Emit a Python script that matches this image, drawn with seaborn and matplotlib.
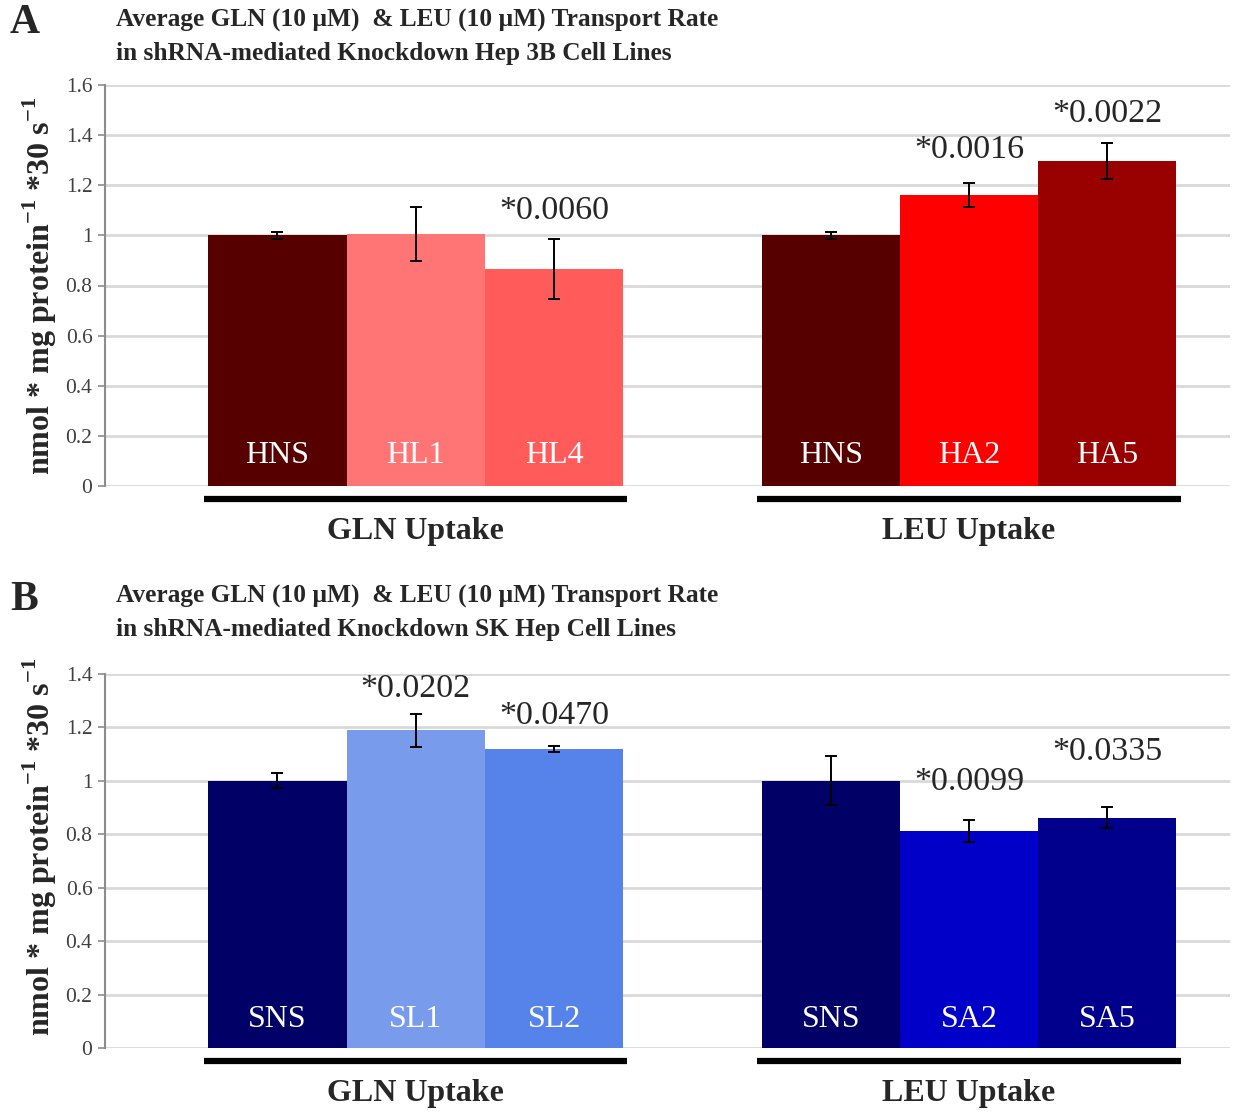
import numpy as np
import pandas as pd
import matplotlib.pyplot as plt
import matplotlib.transforms as mtransforms
import seaborn as sns

# Values (normalised transport rate, +/- error)
pos = [0, 1, 2, 4, 5, 6]

labels_a = ['HNS', 'HL1', 'HL4', 'HNS', 'HA2', 'HA5']
rate_a = [1.00, 1.005, 0.865, 1.00, 1.16, 1.297]
err_a = [0.013, 0.107, 0.12, 0.013, 0.047, 0.072]
colors_a = ['#560000', '#FF7575', '#FF5B5B', '#560000', '#FF0000', '#990000']
pvals_a = ['', '', '0.0060', '', '0.0016', '0.0022']
ptext_y_a = [0, 0, 1.065, 0, 1.309, 1.453]

labels_b = ['SNS', 'SL1', 'SL2', 'SNS', 'SA2', 'SA5']
rate_b = [1.00, 1.19, 1.12, 1.00, 0.813, 0.862]
err_b = [0.028, 0.062, 0.012, 0.092, 0.041, 0.039]
colors_b = ['#000066', '#789BEC', '#5583EA', '#000066', '#0000C8', '#00008C']
pvals_b = ['', '0.0202', '0.0470', '', '0.0099', '0.0335']
ptext_y_b = [0, 1.315, 1.213, 0, 0.966, 1.079]

groups = ['GLN Uptake', 'LEU Uptake']
titles = ['Average GLN (10 \u00b5M)  & LEU (10 \u00b5M) Transport Rate\n'
          'in shRNA-mediated Knockdown Hep 3B Cell Lines',
          'Average GLN (10 \u00b5M)  & LEU (10 \u00b5M) Transport Rate\n'
          'in shRNA-mediated Knockdown SK Hep Cell Lines']

sns.set_style('white')
plt.rcParams['font.family'] = ['Liberation Serif', 'DejaVu Serif']
plt.rcParams['mathtext.fontset'] = 'custom'
plt.rcParams['mathtext.rm'] = 'Liberation Serif'
plt.rcParams['mathtext.bf'] = 'Liberation Serif:bold'

W, H = 1233, 1115
fig = plt.figure(figsize=(W / 100, H / 100), dpi=100)


def panel(rect_px, labels, rate, err, colors, pvals, ptext_y, ymax, title, letter,
          ylabel_y, title_off, letter_off):
    left, top, right, bottom = rect_px
    ax = fig.add_axes([left / W, 1 - bottom / H, (right - left) / W, (bottom - top) / H])
    ax_h = bottom - top
    df = pd.DataFrame({'pos': pos, 'rate': rate, 'label': labels})
    pal = dict(zip(labels, colors))
    sns.barplot(data=df, x='pos', y='rate', hue='label', palette=pal, native_scale=True,
                width=1, dodge=False, errorbar=None, legend=False, saturation=1,
                linewidth=0, ax=ax)
    ax.errorbar(pos, rate, yerr=err, fmt='none', ecolor='black', elinewidth=1.4,
                capsize=4, capthick=1.4, zorder=5)

    ax.set_xlim(-1.247, 6.887)
    ax.set_ylim(0, ymax)
    ticks = np.arange(0, ymax + 0.01, 0.2)
    ax.set_yticks(ticks)
    ax.set_yticklabels([f'{t:g}' for t in np.round(ticks, 1)])
    ax.set_xticks([])
    ax.set_xlabel('')
    ax.grid(axis='y', color='#d9d9d9', lw=2)
    ax.set_axisbelow(True)
    for s in ['top', 'right', 'bottom']:
        ax.spines[s].set_visible(False)
    ax.spines['left'].set_color('#8c8c8c')
    ax.spines['left'].set_linewidth(1.5)
    ax.tick_params(axis='y', left=True, length=5, width=1.2, color='#8c8c8c',
                   labelsize=15.5, labelcolor='#404040', pad=4)

    ax.set_ylabel(r'nmol * mg protein$^{\mathbf{-1}}$ *30 s$^{\mathbf{-1}}$',
                  fontsize=23, fontweight='bold')
    ax.yaxis.set_label_coords(-0.041, ylabel_y)

    # labels inside the bars and p-values above
    trans = mtransforms.blended_transform_factory(ax.transData, ax.transAxes)
    for x, lab, pv, ty in zip(pos, labels, pvals, ptext_y):
        ax.text(x, 0.076, lab, transform=trans,
                ha='center', va='center', color='white', fontsize=23)
        if pv:
            ax.text(x, ty, '*' + pv, ha='center', va='baseline', fontsize=24.5)

    # group underline and names
    for g, (x0, x1) in zip(groups, [(-0.53, 2.53), (3.47, 6.53)]):
        ax.plot([x0, x1], [-13 / ax_h] * 2, color='black', lw=4.5, solid_capstyle='butt',
                transform=trans, clip_on=False)
        ax.text((x0 + x1) / 2, -45 / ax_h, g, transform=trans, ha='center',
                va='center', fontsize=23, fontweight='bold')

    fig.text(116 / W, 1 - (top - title_off) / H, title, ha='left', va='center',
             fontsize=18.3, fontweight='bold', linespacing=1.55)
    fig.text(10 / W, 1 - (top - letter_off) / H, letter, ha='left', va='center',
             fontsize=30, fontweight='bold')
    return ax


panel((105, 85, 1230, 486), labels_a, rate_a, err_a, colors_a, pvals_a, ptext_y_a, 1.6,
      titles[0], 'A', 0.5, 48, 62)
panel((105, 674, 1230, 1048), labels_b, rate_b, err_b, colors_b, pvals_b, ptext_y_b, 1.4,
      titles[1], 'B', 0.537, 61, 74)

fig.savefig('out.png', dpi=100)
